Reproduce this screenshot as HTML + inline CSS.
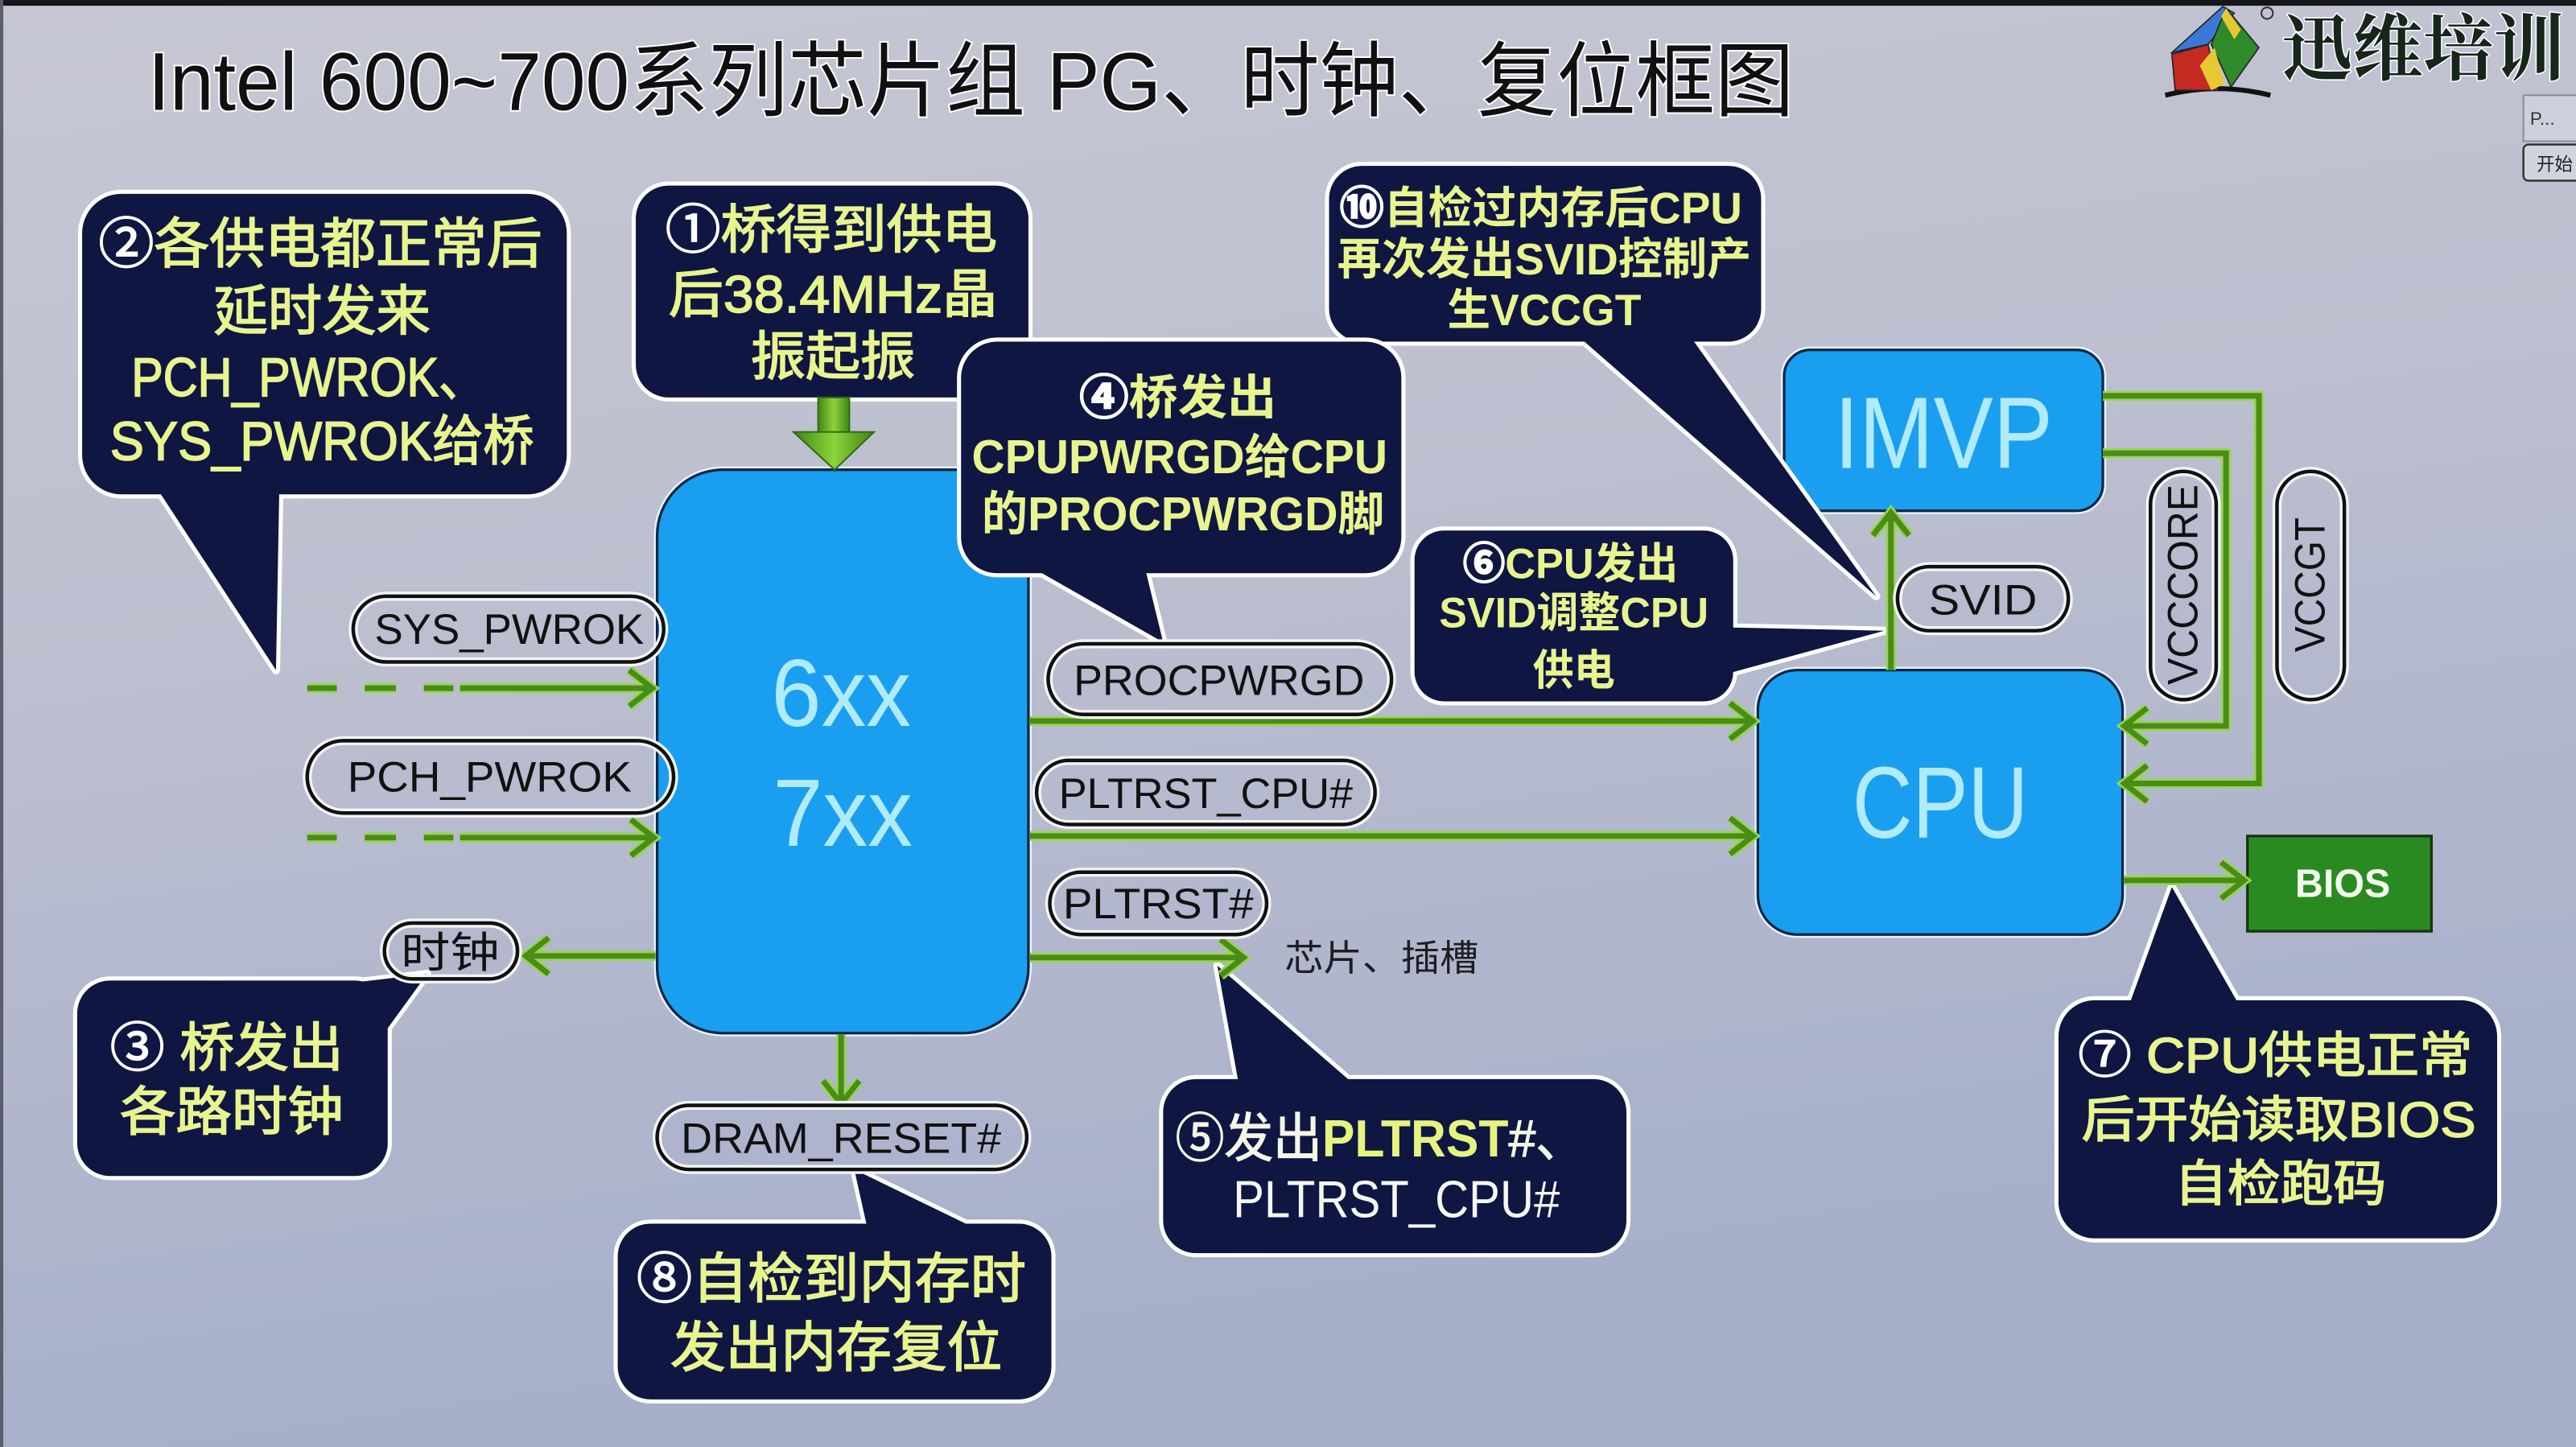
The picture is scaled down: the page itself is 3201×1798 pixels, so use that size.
<!DOCTYPE html>
<html>
<head>
<meta charset="utf-8">
<style>
  html, body { margin:0; padding:0; width:3201px; height:1798px; overflow:hidden; background:#b9bccd; }
  svg { display:block; }
  text { font-family: "Liberation Sans", "Noto Sans CJK SC", sans-serif; }
  .cs { fill:#0f1642; stroke:#ffffff; stroke-width:5; stroke-linejoin:round; }
  .cf { fill:#0f1642; }
  .ct { fill:#e8f48e; text-anchor:middle; stroke:#e8f48e; stroke-width:0.8; }
  .ctb { fill:#e8f48e; text-anchor:middle; font-weight:700; }
  .wn { fill:#ffffff; stroke:#ffffff; }
  .pw { fill:none; stroke:#f4f4f8; stroke-width:5.5; }
  .pb { fill:none; stroke:#111111; stroke-width:2.2; }
  .pt { fill:#111111; font-size:26px; text-anchor:middle; }
  .gl { fill:none; stroke:#98d452; stroke-width:6; stroke-linejoin:miter; }
  .gc { fill:none; stroke:#4a8d16; stroke-width:3.4; stroke-linejoin:miter; }
  .bx { fill:#1a9ff0; stroke:#0b2744; stroke-width:1.6; }
  .bh { fill:none; stroke:#e8f2ff; stroke-width:4; }
  .bt { fill:#b0ebfc; text-anchor:middle; }
</style>
</head>
<body>
<svg width="3201" height="1798" viewBox="0 0 1568 881" preserveAspectRatio="none" xmlns="http://www.w3.org/2000/svg">
  <defs>
    <linearGradient id="bg" x1="0" y1="0" x2="0.25" y2="1">
      <stop offset="0" stop-color="#c6c7d3"/>
      <stop offset="0.45" stop-color="#bcbfcf"/>
      <stop offset="1" stop-color="#a6aeca"/>
    </linearGradient>
    <linearGradient id="ga" x1="0" y1="0" x2="1" y2="0">
      <stop offset="0" stop-color="#3d8612"/>
      <stop offset="0.5" stop-color="#8fd23c"/>
      <stop offset="1" stop-color="#3d8612"/>
    </linearGradient>
  </defs>

  <!-- background -->
  <rect x="0" y="0" width="1568" height="881" fill="url(#bg)"/>
  <rect x="0" y="0" width="1568" height="3.5" fill="#15151a"/>
  <rect x="0" y="0" width="2" height="881" fill="#5a5d6a"/>

  <!-- title -->
  <text x="90" y="67" font-size="50" textLength="1002" lengthAdjust="spacingAndGlyphs" fill="#101010" stroke="#ffffff" stroke-width="2" paint-order="stroke">Intel 600~700系列芯片组 PG、时钟、复位框图</text>

  <!-- logo -->
  <g>
    <path d="M1318,58 Q1350,50 1382,58" fill="none" stroke="#111" stroke-width="3"/>
    <polygon points="1322,33 1344,27 1350,55 1324,55" fill="#c42a22" stroke="#222" stroke-width="0.8"/>
    <polygon points="1322,32 1353,4 1360,8 1344,27" fill="#3a78d8" stroke="#222" stroke-width="0.8"/>
    <polygon points="1355,5 1375,29 1358,53 1346,27" fill="#2f8a2a" stroke="#222" stroke-width="0.8"/>
    <polygon points="1339,40 1348,29 1354,51 1346,55" fill="#e8c830"/>
    <polygon points="1355,5 1364,18 1360,24 1352,10" fill="#e8c830"/>
    <circle cx="1380" cy="8" r="3.5" fill="none" stroke="#333" stroke-width="1"/>
    <text x="1475" y="45" font-size="44" text-anchor="middle" textLength="172" lengthAdjust="spacingAndGlyphs" font-weight="700" fill="#16261a" stroke="#ffffff" stroke-width="1.5" paint-order="stroke" style="font-family:'Noto Serif CJK SC','Liberation Serif',serif;">迅维培训</text>
  </g>
  <!-- right-edge window artifacts -->
  <rect x="1536" y="58" width="40" height="28" fill="#cdd0da" stroke="#8a8c95" stroke-width="1"/>
  <text x="1540" y="76" font-size="11" fill="#333">P...</text>
  <rect x="1536" y="88" width="40" height="22" rx="3" fill="#d2d4dc" stroke="#333" stroke-width="1.2"/>
  <text x="1544" y="104" font-size="11" fill="#222">开始</text>

  <!-- ===== blue boxes (drawn first so callouts overlap them) ===== -->
  <rect class="bh" x="400" y="286" width="226" height="343" rx="40"/>
  <rect class="bx" x="400" y="286" width="226" height="343" rx="40"/>
  <text class="bt" x="512" y="442" font-size="58" textLength="85" lengthAdjust="spacingAndGlyphs">6xx</text>
  <text class="bt" x="513" y="515" font-size="58" textLength="85" lengthAdjust="spacingAndGlyphs">7xx</text>

  <rect class="bh" x="1086" y="213" width="194" height="98" rx="16"/>
  <rect class="bx" x="1086" y="213" width="194" height="98" rx="16"/>
  <text class="bt" x="1183" y="285" font-size="62" textLength="133" lengthAdjust="spacingAndGlyphs">IMVP</text>

  <rect class="bh" x="1070" y="408" width="222" height="161" rx="24"/>
  <rect class="bx" x="1070" y="408" width="222" height="161" rx="24"/>
  <text class="bt" x="1181" y="510" font-size="62" textLength="107" lengthAdjust="spacingAndGlyphs">CPU</text>

  <!-- BIOS -->
  <rect x="1368" y="509" width="112" height="58" fill="#2a8a22" stroke="#17340f" stroke-width="1.6"/>
  <text x="1426" y="546" font-size="24" font-weight="700" text-anchor="middle" fill="#f4fbee" textLength="58" lengthAdjust="spacingAndGlyphs">BIOS</text>

  <!-- ===== callouts (stroke pass) ===== -->
  <rect class="cs" x="50" y="118" width="295" height="183" rx="24"/>
  <polygon class="cs" points="96,298 170,298 168,408"/>
  <rect class="cs" x="387" y="113" width="239" height="129" rx="20"/>
  <rect class="cs" x="809" y="101" width="263" height="107" rx="20"/>
  <polygon class="cs" points="961,205 1029,205 1142,363"/>
  <rect class="cs" x="861" y="323" width="194" height="104" rx="18"/>
  <polygon class="cs" points="1052,382 1052,410 1147,384"/>
  <rect class="cs" x="47" y="597" width="189" height="119" rx="20"/>
  <polygon class="cs" points="200,600 236,626 260,593"/>
  <rect class="cs" x="376" y="745" width="264" height="107" rx="20"/>
  <polygon class="cs" points="528,748 594,748 520,712"/>
  <rect class="cs" x="708" y="657" width="282" height="106" rx="20"/>
  <polygon class="cs" points="754,660 824,660 741,588"/>
  <rect class="cs" x="1253" y="609" width="267" height="145" rx="22"/>
  <polygon class="cs" points="1296,612 1363,612 1322,540"/>

  <!-- ===== callouts (fill pass) ===== -->
  <rect class="cf" x="50" y="118" width="295" height="183" rx="24"/>
  <polygon class="cf" points="96,298 170,298 168,408"/>
  <rect class="cf" x="387" y="113" width="239" height="129" rx="20"/>
  <rect class="cf" x="809" y="101" width="263" height="107" rx="20"/>
  <polygon class="cf" points="961,205 1029,205 1142,363"/>
  <rect class="cf" x="861" y="323" width="194" height="104" rx="18"/>
  <polygon class="cf" points="1052,382 1052,410 1147,384"/>
  <rect class="cf" x="47" y="597" width="189" height="119" rx="20"/>
  <polygon class="cf" points="200,600 236,626 260,593"/>
  <rect class="cf" x="376" y="745" width="264" height="107" rx="20"/>
  <polygon class="cf" points="528,748 594,748 520,712"/>
  <rect class="cf" x="708" y="657" width="282" height="106" rx="20"/>
  <polygon class="cf" points="754,660 824,660 741,588"/>
  <rect class="cf" x="1253" y="609" width="267" height="145" rx="22"/>
  <polygon class="cf" points="1296,612 1363,612 1322,540"/>

  <!-- callout ④ drawn on top of ① and 6xx -->
  <rect class="cs" x="585" y="208" width="268" height="141" rx="22"/>
  <polygon class="cs" points="629,346 697,346 708,391"/>
  <rect class="cf" x="585" y="208" width="268" height="141" rx="22"/>
  <polygon class="cf" points="629,346 697,346 708,391"/>

  <!-- ===== callout texts ===== -->
  <!-- ② -->
  <text class="ct" x="195" y="160" font-size="33" textLength="270" lengthAdjust="spacingAndGlyphs"><tspan class="wn">②</tspan>各供电都正常后</text>
  <text class="ct" x="196" y="201" font-size="33" textLength="132" lengthAdjust="spacingAndGlyphs">延时发来</text>
  <text class="ct" x="188" y="241" font-size="33" textLength="216" lengthAdjust="spacingAndGlyphs">PCH_PWROK、</text>
  <text class="ct" x="196" y="280" font-size="33" textLength="258" lengthAdjust="spacingAndGlyphs">SYS_PWROK给桥</text>
  <!-- ① -->
  <text class="ct" x="506" y="151" font-size="32" textLength="202" lengthAdjust="spacingAndGlyphs"><tspan class="wn">①</tspan>桥得到供电</text>
  <text class="ct" x="507" y="190" font-size="32" textLength="200" lengthAdjust="spacingAndGlyphs">后38.4MHz晶</text>
  <text class="ct" x="507" y="228" font-size="32" textLength="100" lengthAdjust="spacingAndGlyphs">振起振</text>
  <!-- ④ -->
  <text class="ctb" x="717" y="252" font-size="29" textLength="120" lengthAdjust="spacingAndGlyphs"><tspan class="wn">④</tspan>桥发出</text>
  <text class="ctb" x="718" y="288" font-size="29" textLength="253" lengthAdjust="spacingAndGlyphs">CPUPWRGD给CPU</text>
  <text class="ctb" x="720" y="323" font-size="29" textLength="245" lengthAdjust="spacingAndGlyphs">的PROCPWRGD脚</text>
  <!-- ⑥ -->
  <text class="ctb" x="956" y="352" font-size="26" textLength="131" lengthAdjust="spacingAndGlyphs"><tspan class="wn">⑥</tspan>CPU发出</text>
  <text class="ctb" x="958" y="382" font-size="26" textLength="164" lengthAdjust="spacingAndGlyphs">SVID调整CPU</text>
  <text class="ctb" x="958" y="417" font-size="26" textLength="50" lengthAdjust="spacingAndGlyphs">供电</text>
  <!-- ⑩ -->
  <text class="ctb" x="938" y="136" font-size="27" textLength="245" lengthAdjust="spacingAndGlyphs"><tspan class="wn">⑩</tspan>自检过内存后CPU</text>
  <text class="ctb" x="940" y="167" font-size="27" textLength="252" lengthAdjust="spacingAndGlyphs">再次发出SVID控制产</text>
  <text class="ctb" x="940" y="198" font-size="27" textLength="118" lengthAdjust="spacingAndGlyphs">生VCCGT</text>
  <!-- ③ -->
  <text class="ct" x="138" y="649" font-size="32" textLength="142" lengthAdjust="spacingAndGlyphs"><tspan class="wn">③</tspan> 桥发出</text>
  <text class="ct" x="141" y="688" font-size="32" textLength="136" lengthAdjust="spacingAndGlyphs">各路时钟</text>
  <!-- ⑧ -->
  <text class="ct" x="506" y="790" font-size="33" textLength="237" lengthAdjust="spacingAndGlyphs"><tspan class="wn">⑧</tspan>自检到内存时</text>
  <text class="ct" x="509" y="832" font-size="33" textLength="202" lengthAdjust="spacingAndGlyphs">发出内存复位</text>
  <!-- ⑤ -->
  <text x="840" y="704" font-size="32" text-anchor="middle" textLength="249" lengthAdjust="spacingAndGlyphs"><tspan fill="#f4f6e6" stroke="#f4f6e6" stroke-width="0.6">⑤发出</tspan><tspan font-weight="700" fill="#e6f37e">PLTRST</tspan><tspan fill="#f4f6e6" stroke="#f4f6e6" stroke-width="0.6">#、</tspan></text>
  <text x="850" y="741" font-size="32" text-anchor="middle" fill="#f6f6f2" textLength="199" lengthAdjust="spacingAndGlyphs">PLTRST_CPU#</text>
  <!-- ⑦ -->
  <text class="ct" x="1385" y="653" font-size="30" textLength="240" lengthAdjust="spacingAndGlyphs"><tspan class="wn">⑦</tspan> CPU供电正常</text>
  <text class="ct" x="1387" y="692" font-size="30" textLength="240" lengthAdjust="spacingAndGlyphs">后开始读取BIOS</text>
  <text class="ct" x="1388" y="731" font-size="30" textLength="129" lengthAdjust="spacingAndGlyphs">自检跑码</text>

  <!-- big green arrow from ① -->
  <rect x="498" y="242" width="19" height="22" fill="url(#ga)" stroke="#2f6e10" stroke-width="1"/>
  <polygon points="483,263 532,263 508,286" fill="url(#ga)" stroke="#2f6e10" stroke-width="1"/>

  <!-- ===== green connectors ===== -->
  <g>
    <path class="gl" d="M187,419 H205 M222,419 H241 M258,419 H276 M280,419 H396 M383,408 L397,419 L383,430"/>
    <path class="gc" d="M187,419 H205 M222,419 H241 M258,419 H276 M280,419 H396 M383,408 L397,419 L383,430"/>
    <path class="gl" d="M187,510 H205 M222,510 H241 M258,510 H276 M280,510 H397 M384,499 L398,510 L384,521"/>
    <path class="gc" d="M187,510 H205 M222,510 H241 M258,510 H276 M280,510 H397 M384,499 L398,510 L384,521"/>
    <path class="gl" d="M399,582 H321 M334,571 L320,582 L334,593"/>
    <path class="gc" d="M399,582 H321 M334,571 L320,582 L334,593"/>
    <path class="gl" d="M627,439 H1066 M1053,428 L1067,439 L1053,450"/>
    <path class="gc" d="M627,439 H1066 M1053,428 L1067,439 L1053,450"/>
    <path class="gl" d="M627,509 H1066 M1053,498 L1067,509 L1053,520"/>
    <path class="gc" d="M627,509 H1066 M1053,498 L1067,509 L1053,520"/>
    <path class="gl" d="M627,583 H756 M743,572 L757,583 L743,594"/>
    <path class="gc" d="M627,583 H756 M743,572 L757,583 L743,594"/>
    <path class="gl" d="M512,630 V671 M501,658 L512,672 L523,658"/>
    <path class="gc" d="M512,630 V671 M501,658 L512,672 L523,658"/>
    <path class="gl" d="M1151,408 V313 M1140,326 L1151,312 L1162,326"/>
    <path class="gc" d="M1151,408 V313 M1140,326 L1151,312 L1162,326"/>
    <path class="gl" d="M1280,241 H1375 V477 H1295 M1307,466 L1293,477 L1307,488"/>
    <path class="gc" d="M1280,241 H1375 V477 H1295 M1307,466 L1293,477 L1307,488"/>
    <path class="gl" d="M1280,276 H1355 V442 H1295 M1307,431 L1293,442 L1307,453"/>
    <path class="gc" d="M1280,276 H1355 V442 H1295 M1307,431 L1293,442 L1307,453"/>
    <path class="gl" d="M1293,536 H1365 M1352,525 L1366,536 L1352,547"/>
    <path class="gc" d="M1293,536 H1365 M1352,525 L1366,536 L1352,547"/>
  </g>

  <!-- ===== pills ===== -->
  <rect class="pw" x="215" y="363" width="189" height="40" rx="20"/>
  <rect class="pb" x="215" y="363" width="189" height="40" rx="20"/>
  <text class="pt" x="310" y="392" textLength="164" lengthAdjust="spacingAndGlyphs">SYS_PWROK</text>

  <rect class="pw" x="187" y="451" width="223" height="44" rx="22"/>
  <rect class="pb" x="187" y="451" width="223" height="44" rx="22"/>
  <text class="pt" x="298" y="482" textLength="173" lengthAdjust="spacingAndGlyphs">PCH_PWROK</text>

  <rect class="pw" x="234" y="562" width="81" height="34" rx="17"/>
  <rect class="pb" x="234" y="562" width="81" height="34" rx="17"/>
  <text class="pt" x="274" y="589" textLength="60" lengthAdjust="spacingAndGlyphs">时钟</text>

  <rect class="pw" x="638" y="392" width="209" height="43" rx="21.5"/>
  <rect class="pb" x="638" y="392" width="209" height="43" rx="21.5"/>
  <text class="pt" x="742" y="423" textLength="177" lengthAdjust="spacingAndGlyphs">PROCPWRGD</text>

  <rect class="pw" x="631" y="463" width="206" height="39" rx="19.5"/>
  <rect class="pb" x="631" y="463" width="206" height="39" rx="19.5"/>
  <text class="pt" x="734" y="492" textLength="179" lengthAdjust="spacingAndGlyphs">PLTRST_CPU#</text>

  <rect class="pw" x="639" y="531" width="132" height="38" rx="19"/>
  <rect class="pb" x="639" y="531" width="132" height="38" rx="19"/>
  <text class="pt" x="705" y="559" textLength="116" lengthAdjust="spacingAndGlyphs">PLTRST#</text>

  <rect class="pw" x="400" y="673" width="225" height="39" rx="19.5"/>
  <rect class="pb" x="400" y="673" width="225" height="39" rx="19.5"/>
  <text class="pt" x="512" y="702" textLength="195" lengthAdjust="spacingAndGlyphs">DRAM_RESET#</text>

  <rect class="pw" x="1155" y="345" width="104" height="39" rx="19.5"/>
  <rect class="pb" x="1155" y="345" width="104" height="39" rx="19.5"/>
  <text class="pt" x="1207" y="374" font-size="27" textLength="66" lengthAdjust="spacingAndGlyphs">SVID</text>

  <rect class="pw" x="1309" y="287" width="40" height="139" rx="20"/>
  <rect class="pb" x="1309" y="287" width="40" height="139" rx="20"/>
  <text class="pt" x="1329" y="364.5" font-size="24" transform="rotate(-90 1329 356)" textLength="122" lengthAdjust="spacingAndGlyphs">VCCCORE</text>

  <rect class="pw" x="1386" y="287" width="41" height="139" rx="20.5"/>
  <rect class="pb" x="1386" y="287" width="41" height="139" rx="20.5"/>
  <text class="pt" x="1406.5" y="364.5" font-size="24" transform="rotate(-90 1406.5 356)" textLength="82" lengthAdjust="spacingAndGlyphs">VCCGT</text>

  <!-- chip/slot label -->
  <text x="841" y="591" font-size="22" text-anchor="middle" fill="#1e1e22" textLength="118" lengthAdjust="spacingAndGlyphs">芯片、插槽</text>
</svg>
</body>
</html>
